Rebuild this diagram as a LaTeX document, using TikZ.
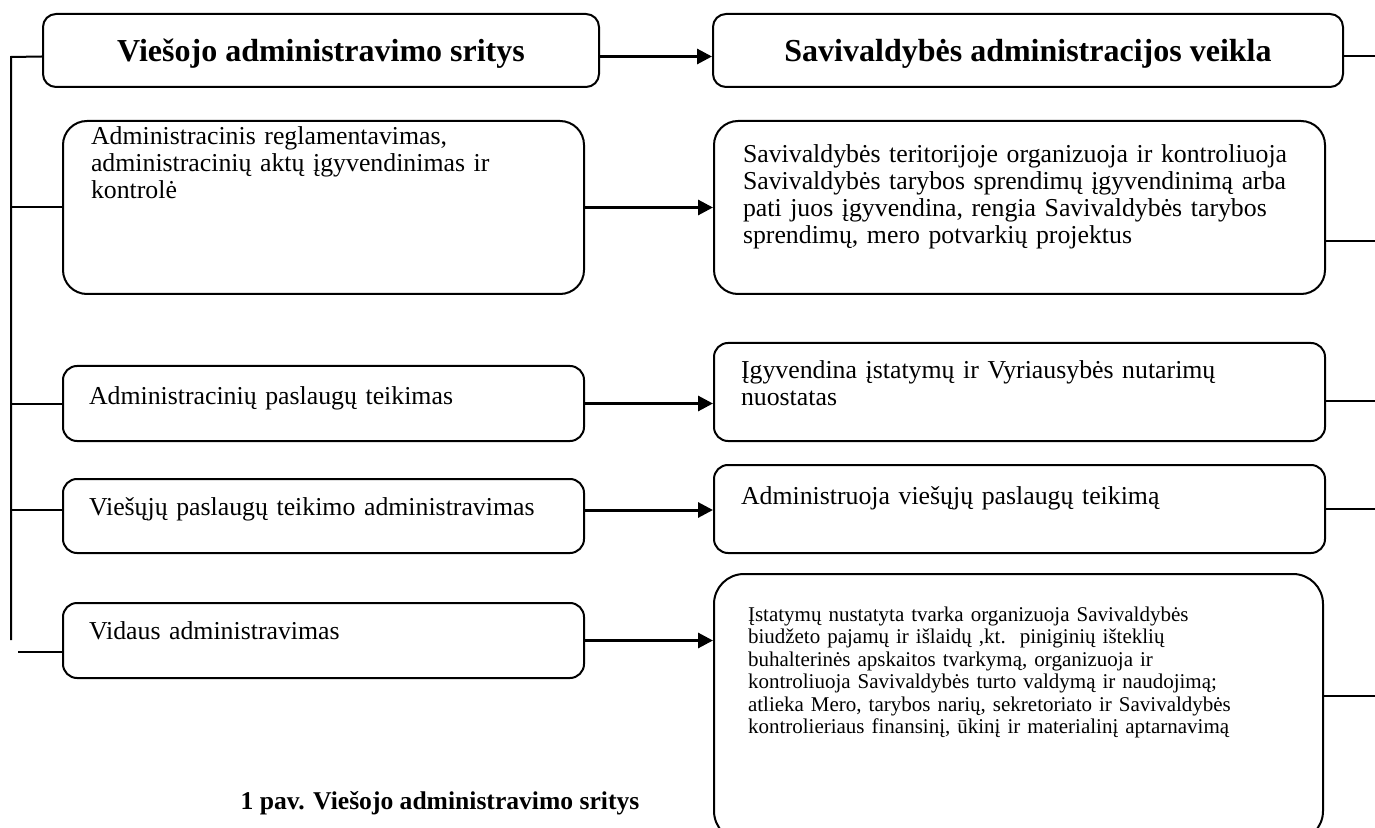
\documentclass[tikz,border=0pt]{standalone}
\usepackage{fontspec}
\setmainfont{Liberation Serif}
\usetikzlibrary{arrows.meta, positioning}
\tikzstyle{titlebox} = [
    rectangle, draw=black, line width=1pt, rounded corners=6.5pt,
    minimum height=36.5pt, text depth=0pt, font=\fontsize{16}{18}\selectfont\bfseries
]
\tikzstyle{areabox} = [
    rectangle, draw=black, line width=1pt, anchor=north west,
    align=left, inner ysep=0pt, font=\fontsize{12.9}{13.5}\selectfont
]
\tikzstyle{arrow} = [line width=1.5pt, -{Triangle[length=7.5pt,width=7.5pt]}]
\tikzstyle{link} = [line width=1pt]

\begin{document}
\begin{tikzpicture}[x=0.5pt, y=-0.5pt]
    \useasboundingbox (0,0) rectangle (1375,828);
    % headers
    \node [titlebox, minimum width=278pt] (sritys) at (321,50.5) {Viešojo administravimo sritys};
    \node [titlebox, minimum width=315pt] (veikla) at (1028,50.5) {Savivaldybės administracijos veikla};

    % left column
    \node [areabox, rounded corners=12pt, inner xsep=14pt, text width=232.5pt, text height=12pt, text depth=74.5pt] (regl) at (62,120)
        {Administracinis reglamentavimas,\\ administracinių aktų įgyvendinimas ir\\ kontrolė};
    \node [areabox, rounded corners=7pt, inner xsep=13pt, text width=234.5pt, text height=19pt, text depth=18.5pt] (paslaugos) at (62,365)
        {Administracinių paslaugų teikimas};
    \node [areabox, rounded corners=7pt, inner xsep=13pt, text width=234.5pt, text height=18pt, text depth=19pt] (viesosios) at (62,478)
        {Viešųjų paslaugų teikimo administravimas};
    \node [areabox, rounded corners=7pt, inner xsep=13pt, text width=234.5pt, text height=18pt, text depth=19.5pt] (vidaus) at (62,602)
        {Vidaus administravimas};

    % right column
    \node [areabox, rounded corners=12pt, inner xsep=14.5pt, text width=276.5pt, text height=21pt, text depth=65.5pt] (sprendimai) at (713,120)
        {Savivaldybės teritorijoje organizuoja ir kontroliuoja\\ Savivaldybės tarybos sprendimų įgyvendinimą arba\\ pati juos įgyvendina, rengia Savivaldybės tarybos\\ sprendimų, mero potvarkių projektus};
    \node [areabox, rounded corners=7pt, inner xsep=13.5pt, text width=278.5pt, text height=18pt, text depth=31pt] (nuostatos) at (713,342)
        {Įgyvendina įstatymų ir Vyriausybės nutarimų\\ nuostatas};
    \node [areabox, rounded corners=7pt, inner xsep=13.5pt, text width=278.5pt, text height=19.5pt, text depth=24.5pt] (teikimas) at (713,464)
        {Administruoja viešųjų paslaugų teikimą};
    \node [areabox, rounded corners=15pt, inner xsep=17pt, text width=270.5pt, text height=23.5pt, text depth=110pt,
           font=\fontsize{10.5}{11.25}\selectfont] (apskaita) at (713,573)
        {Įstatymų nustatyta tvarka organizuoja Savivaldybės\\ biudžeto pajamų ir išlaidų ,kt.\ \ piniginių išteklių\\ buhalterinės apskaitos tvarkymą, organizuoja ir\\ kontroliuoja Savivaldybės turto valdymą ir naudojimą;\\ atlieka Mero, tarybos narių, sekretoriato ir Savivaldybės\\ kontrolieriaus finansinį, ūkinį ir materialinį aptarnavimą};

    \node [font=\fontsize{12.8}{14}\selectfont\bfseries] (caption) at (440,803) {1 pav. Viešojo administravimo sritys};

    % spine on the left
    \coordinate (spinetop) at (11,57);
    \coordinate (spineend) at (11,640);
    \draw [link] ([yshift=-3pt]sritys.west) -- (spinetop) -- (spineend);
    \draw [link] (regl.west) -- (regl.west -| spinetop);
    \draw [link] (paslaugos.west) -- (paslaugos.west -| spinetop);
    \draw [link] ([yshift=3pt]viesosios.west) -- ([yshift=3pt]viesosios.west -| spinetop);
    \draw [link] ([yshift=-5.5pt]vidaus.west) -- ++(-44,0);

    % arrows
    \draw [arrow] ([yshift=-3pt]sritys.east) -- ([yshift=-3pt]veikla.west);
    \draw [arrow] (regl.east) -- (regl.east -| sprendimai.west);
    \draw [arrow] (paslaugos.east) -- (paslaugos.east -| nuostatos.west);
    \draw [arrow] ([yshift=3pt]viesosios.east) -- ([yshift=3pt]viesosios.east -| teikimas.west);
    \draw [arrow] (vidaus.east) -- (vidaus.east -| apskaita.west);

    % stubs on the right
    \draw [link] ([yshift=-3pt]veikla.east) -- ++(40,0);
    \draw [link] ([yshift=-17pt]sprendimai.east) -- ++(60,0);
    \draw [link] ([yshift=-4.5pt]nuostatos.east) -- ++(60,0);
    \draw [link] (teikimas.east) -- ++(60,0);
    \draw [link] ([yshift=5.75pt]apskaita.east) -- ++(60,0);
\end{tikzpicture}
\end{document}
